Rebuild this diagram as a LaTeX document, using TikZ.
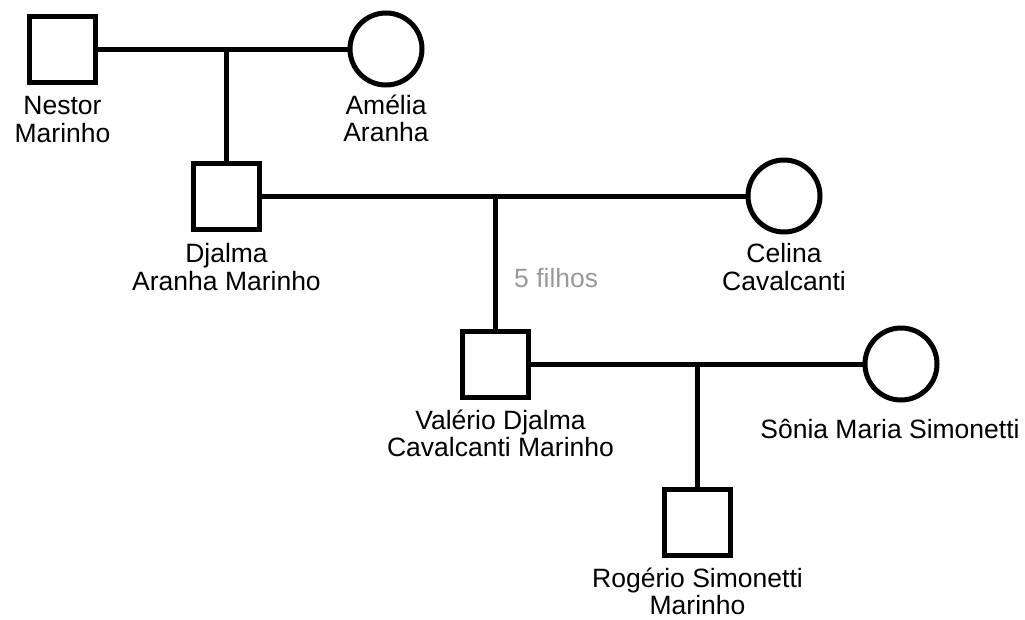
\documentclass[tikz,border=0pt]{standalone}
\usepackage{fontspec}
\setmainfont{Liberation Sans}
\usetikzlibrary{positioning}

\tikzset{
  homem/.style={draw, line width=5pt, minimum size=66pt, inner sep=0pt},
  mulher/.style={draw, circle, line width=5pt, minimum size=72pt, inner sep=0pt},
  nome/.style={inner sep=0pt, align=center, font=\fontsize{26.5}{27.5}\selectfont},
  uniao/.style={line width=5pt},
}

\begin{document}
\begin{tikzpicture}[x=1pt, y=-1pt]
  \useasboundingbox (0,0) rectangle (1025,619);

  % Pessoas
  \node[homem] (nestor) at (62.5,49) {};
  \node[mulher] (amelia) at (386,49) {};
  \node[homem] (djalma) at (226.5,196) {};
  \node[mulher] (celina) at (784,196) {};
  \node[homem] (valerio) at (495.5,364) {};
  \node[mulher] (sonia) at (901,364) {};
  \node[homem] (rogerio) at (697.5,522) {};

  % Nomes
  \node[nome, below=12pt of nestor] (nestorNome) {Nestor\\Marinho};
  \node[nome, below=7pt of amelia] (ameliaNome) {Amélia\\Aranha};
  \node[nome, below=12pt of djalma] (djalmaNome) {Djalma\\Aranha Marinho};
  \node[nome, below=9pt of celina] (celinaNome) {Celina\\Cavalcanti};
  \node[nome, below=10pt of valerio, xshift=5pt] (valerioNome) {Valério Djalma\\Cavalcanti Marinho};
  \node[nome, below=16pt of sonia, xshift=-11pt] (soniaNome) {Sônia Maria Simonetti};
  \node[nome, below=10pt of rogerio] (rogerioNome) {Rogério Simonetti\\Marinho};

  % Casais
  \draw[uniao] (nestor) -- (amelia);
  \draw[uniao] (djalma) -- (celina);
  \draw[uniao] (valerio) -- (sonia);

  % Filhos
  \draw[uniao] (nestor -| djalma) -- (djalma);
  \draw[uniao] (djalma -| valerio) -- (valerio);
  \draw[uniao] (valerio -| rogerio) -- (rogerio);
  \node[nome, text=gray!80, anchor=base west] (filhos) at (514,287) {5 filhos};

\end{tikzpicture}
\end{document}
